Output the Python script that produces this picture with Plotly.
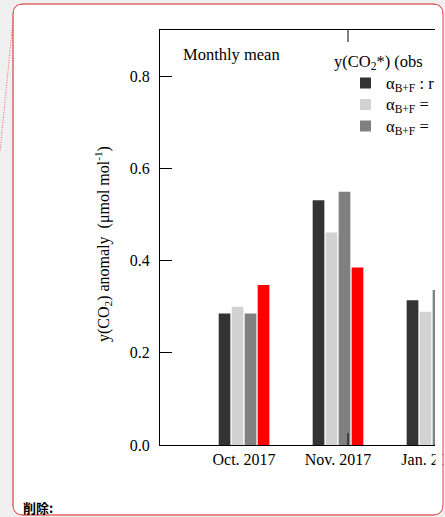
import plotly.graph_objects as go

# Monthly mean y(CO2) anomaly, µmol mol-1
months = ["Oct. 2017", "Nov. 2017", "Jan. 2018"]
alpha_obs = [0.285, 0.531, 0.314]      # dark bars
alpha_a = [0.300, 0.461, 0.289]        # light bars
alpha_b = [0.285, 0.549, 0.336]        # mid-grey bars
observed = [0.347, 0.385, None]        # red bars

legend_labels = ["α<sub>B+F</sub> : r", "α<sub>B+F</sub> =", "α<sub>B+F</sub> ="]
legend_title = "y(CO<sub>2</sub>*) (obs"
y_ticks = [0.0, 0.2, 0.4, 0.6, 0.8]

W, H = 445, 517
L, R, T, B = 160, 435, 30, 445   # plot area in pixels

SERIF = "Liberation Serif, Times New Roman, serif"
DARK, LIGHT, MID, RED = "#333333", "#d2d2d2", "#808080", "#ff0000"
BORDER, OUTSIDE = "#e06464", "#f0f0f0"


def px(x):
    return (x - L) / (R - L)


def py(y):
    return (B - y) / (B - T)


def rounded_rect(x0, y0, x1, y1, r):
    a, b, c, d = px(x0), py(y0), px(x1), py(y1)
    rx = r / (R - L)
    ry = r / (B - T)
    return (f"M{a + rx},{b} L{c - rx},{b} Q{c},{b} {c},{b - ry} "
            f"L{c},{d + ry} Q{c},{d} {c - rx},{d} "
            f"L{a + rx},{d} Q{a},{d} {a},{d + ry} "
            f"L{a},{b - ry} Q{a},{b} {a + rx},{b} Z")


fig = go.Figure()
for name, vals, col in [("obs", alpha_obs, DARK), ("a", alpha_a, LIGHT),
                        ("b", alpha_b, MID), ("observed", observed, RED)]:
    fig.add_trace(go.Bar(x=months, y=vals, name=name, marker_color=col,
                         marker_line_width=0, showlegend=False))

balloon = rounded_rect(13, 4, 443, 515, 10)
shapes = [
    # comment balloon
    dict(type="path", xref="paper", yref="paper", layer="below", path=balloon,
         fillcolor="white", line=dict(color=BORDER, width=1)),
    # dotted connector
    dict(type="line", xref="paper", yref="paper", x0=px(13), y0=py(20),
         x1=px(0), y1=py(152), line=dict(color=BORDER, width=1, dash="1px,1.5px")),
    # minor x ticks on bottom and top frame
    dict(type="line", xref="paper", yref="paper", x0=px(348), x1=px(348),
         y0=0, y1=py(433), line=dict(color="black", width=1)),
    dict(type="line", xref="paper", yref="paper", x0=px(348), x1=px(348),
         y0=1, y1=py(42), line=dict(color="black", width=1)),
    # the embedded chart is cropped at its right edge
    dict(type="rect", xref="paper", yref="paper", layer="above",
         x0=px(435.5), x1=px(442.5), y0=py(14), y1=py(505),
         fillcolor="white", line=dict(width=0)),
    dict(type="rect", xref="paper", yref="paper", layer="above",
         x0=px(443.5), x1=px(446), y0=py(0), y1=py(517),
         fillcolor=OUTSIDE, line=dict(width=0)),
    dict(type="path", xref="paper", yref="paper", layer="above", path=balloon,
         fillcolor="rgba(0,0,0,0)", line=dict(color=BORDER, width=1)),
]

# legend swatches
for i, col in enumerate([DARK, LIGHT, MID]):
    yc = 83 + i * 21.5
    shapes.append(dict(type="rect", xref="paper", yref="paper",
                       x0=px(360), x1=px(371), y0=py(yc - 5.5), y1=py(yc + 5.5),
                       fillcolor=col, line=dict(width=0)))

annotations = [
    dict(text="Monthly mean", x=px(181), y=py(55), xanchor="left", yanchor="middle",
         font=dict(family=SERIF, size=16.5, color="black")),
    dict(text=legend_title, x=px(332), y=py(62), xanchor="left", yanchor="middle",
         font=dict(family=SERIF, size=16.5, color="black")),
    dict(text="y(CO<sub>2</sub>) anomaly  (μmol mol<sup>-1</sup>)", x=px(103), y=py(244),
         textangle=-90, xanchor="center", yanchor="middle",
         font=dict(family=SERIF, size=16, color="black")),
    dict(text="<b>削除:</b>", x=px(21), y=py(507), xanchor="left", yanchor="middle",
         font=dict(family="Noto Sans CJK JP", size=13, color="black")),
]
for i, lab in enumerate(legend_labels):
    annotations.append(dict(text=lab, x=px(384), y=py(84 + i * 21.5),
                            xanchor="left", yanchor="middle",
                            font=dict(family=SERIF, size=16.5, color="black")))
for a in annotations:
    a.update(xref="paper", yref="paper", showarrow=False)

fig.update_layout(
    width=W, height=H,
    margin=dict(l=L, r=W - R, t=T, b=H - B, pad=0, autoexpand=False),
    paper_bgcolor=OUTSIDE, plot_bgcolor="rgba(0,0,0,0)",
    barmode="group", bargap=0.447, bargroupgap=0.1,
    shapes=shapes, annotations=annotations,
    font=dict(family=SERIF, size=16, color="black"),
)
fig.update_xaxes(type="category", range=[-0.894, 2.032], showline=True, linecolor="black",
                 linewidth=1, mirror=True, ticks="", showgrid=False, zeroline=False,
                 automargin=False, tickfont=dict(family=SERIF, size=16))
fig.update_yaxes(range=[0, 0.9], tickvals=y_ticks, tickformat=".1f", ticks="inside",
                 ticklen=12, tickcolor="black", tickwidth=1, showline=True,
                 linecolor="black", linewidth=1, showgrid=False, zeroline=False,
                 automargin=False, tickfont=dict(family=SERIF, size=16),
                 ticklabelstandoff=6)

fig.write_html("out.html")
